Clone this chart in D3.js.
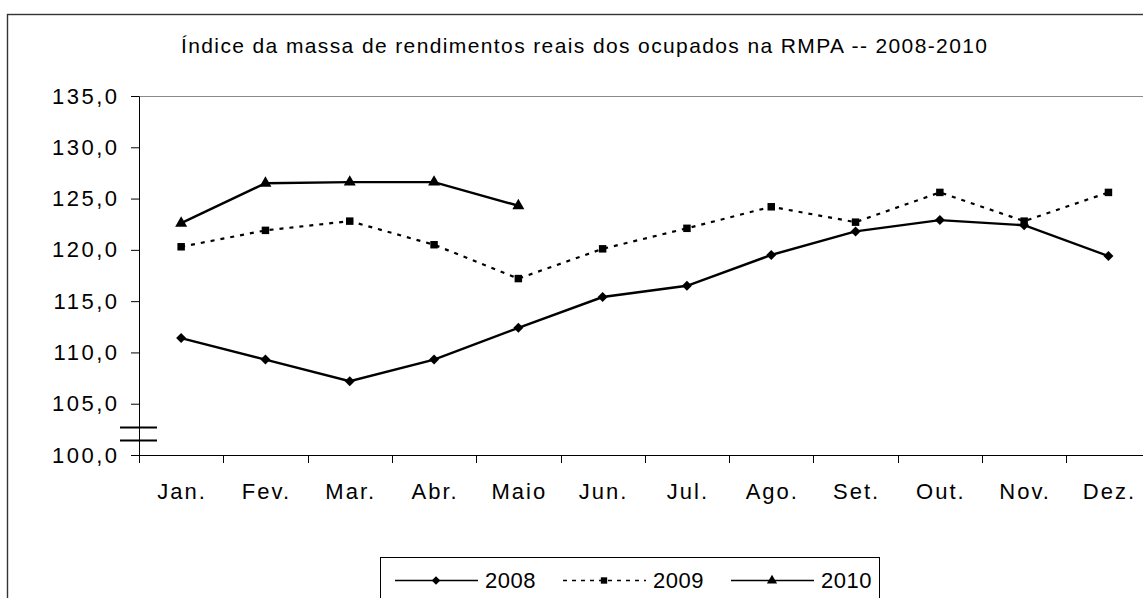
<!DOCTYPE html>
<html><head><meta charset="utf-8">
<script src="https://cdn.jsdelivr.net/npm/d3@7"></script>
<style>body{margin:0;background:#fff} svg{display:block;font-family:"Liberation Sans",Arial,sans-serif}</style>
</head><body><svg id="c" width="1143" height="598"></svg>
<script>
const months = ["Jan.","Fev.","Mar.","Abr.","Maio","Jun.","Jul.","Ago.","Set.","Out.","Nov.","Dez."];
const s2008 = [111.4,109.3,107.2,109.3,112.4,115.4,116.5,119.5,121.8,122.9,122.4,119.4];
const s2009 = [120.3,121.9,122.8,120.5,117.2,120.1,122.1,124.2,122.7,125.6,122.8,125.6];
const s2010 = [122.6,126.5,126.6,126.6,124.3];
const yTicks = [100,105,110,115,120,125,130,135];
const seriesNames = ["2008","2009","2010"];
const title = "Índice da massa de rendimentos reais dos ocupados na RMPA -- 2008-2010";

const svg = d3.select("#c");
svg.append("rect").attr("width",1143).attr("height",598).attr("fill","#fff");
// outer chart frame (extends past the window)
svg.append("rect").attr("x",7.5).attr("y",14.5).attr("width",1300).attr("height",800)
  .attr("fill","none").attr("stroke","#333").attr("stroke-width",1.4);

const x = d3.scaleBand().domain(months).range([139, 139 + 12*84.3]).padding(0);
const y = d3.scaleLinear().domain([100,135]).range([455,96]);
const cx = (i) => x(months[i]) + x.bandwidth()/2;

// title
svg.append("text").attr("x",584).attr("y",53).attr("text-anchor","middle")
  .attr("font-size",21).attr("textLength",806).attr("lengthAdjust","spacing").text(title);

// plot area top border
svg.append("line").attr("x1",139).attr("x2",1143).attr("y1",y(135)+0.5).attr("y2",y(135)+0.5)
  .attr("stroke","#8a8a8a").attr("stroke-width",1);

// y axis
const fmt = d => d3.format(".1f")(d).replace(".",",");
const gy = svg.append("g").attr("transform","translate(139,0)")
  .call(d3.axisLeft(y).tickValues(yTicks).tickSize(8).tickSizeOuter(0).tickPadding(11.5).tickFormat(fmt));
gy.selectAll("path,line").attr("stroke","#000");
gy.selectAll("text").attr("font-size",22).attr("fill","#000").style("letter-spacing","2.5px");

// x axis
const gx = svg.append("g").attr("transform","translate(0,455)")
  .call(d3.axisBottom(x).tickSize(0).tickSizeOuter(0).tickPadding(0));
gx.selectAll("path").attr("stroke","#000");
gx.selectAll("text").attr("font-size",22).attr("fill","#000").attr("y",44).attr("dy",0)
  .attr("dx",1).style("letter-spacing","2px");
// category boundary ticks
const bounds = months.map(m => x(m)).concat([x.range()[1]]);
svg.append("g").selectAll("line").data(bounds).join("line")
  .attr("x1",d=>Math.round(d)+0.5).attr("x2",d=>Math.round(d)+0.5)
  .attr("y1",455).attr("y2",463).attr("stroke","#000");

// axis break marks
svg.append("g").selectAll("line").data([102.7,101.5]).join("line")
  .attr("x1",120).attr("x2",157).attr("y1",d=>Math.round(y(d))+0.5).attr("y2",d=>Math.round(y(d))+0.5)
  .attr("stroke","#000").attr("stroke-width",1.8);

// lines
const line = d3.line().x((d,i)=>cx(i)).y(d=>y(d));
const series = [
  {name:seriesNames[0], data:s2008, dash:null, sym:"diamond", w:2.4},
  {name:seriesNames[1], data:s2009, dash:"4,6", sym:"square", w:2.2},
  {name:seriesNames[2], data:s2010, dash:null, sym:"triangle", w:2.4}
];
const symPath = {
  diamond: d3.symbol(d3.symbolSquare, 50)(),
  square: d3.symbol(d3.symbolSquare, 56)(),
  triangle: d3.symbol(d3.symbolTriangle, 62)()
};
const symRot = {diamond:45, square:0, triangle:0};

series.forEach(s => {
  svg.append("path").datum(s.data).attr("d",line).attr("fill","none")
    .attr("stroke","#000").attr("stroke-width",s.w).attr("stroke-dasharray",s.dash);
  svg.append("g").selectAll("path").data(s.data).join("path")
    .attr("d",symPath[s.sym])
    .attr("transform",(d,i)=>`translate(${cx(i)},${y(d)}) rotate(${symRot[s.sym]})`)
    .attr("fill","#000");
});

// legend
const lg = svg.append("g");
lg.append("rect").attr("x",380.5).attr("y",557.5).attr("width",499).attr("height",100)
  .attr("fill","#fff").attr("stroke","#000").attr("stroke-width",1);
const legendX = [395, 563, 731];
series.forEach((s,k) => {
  const x0 = legendX[k];
  lg.append("line").attr("x1",x0).attr("x2",x0+83).attr("y1",580.5).attr("y2",580.5)
    .attr("stroke","#000").attr("stroke-width",1.6).attr("stroke-dasharray",s.dash ? "4,5" : null);
  lg.append("path").attr("d",symPath[s.sym])
    .attr("transform",`translate(${x0+41},${580.5}) rotate(${symRot[s.sym]}) scale(0.85)`).attr("fill","#000");
  lg.append("text").attr("x",x0+90).attr("y",588).attr("font-size",22)
    .style("letter-spacing","0.5px").text(s.name);
});
</script></body></html>
